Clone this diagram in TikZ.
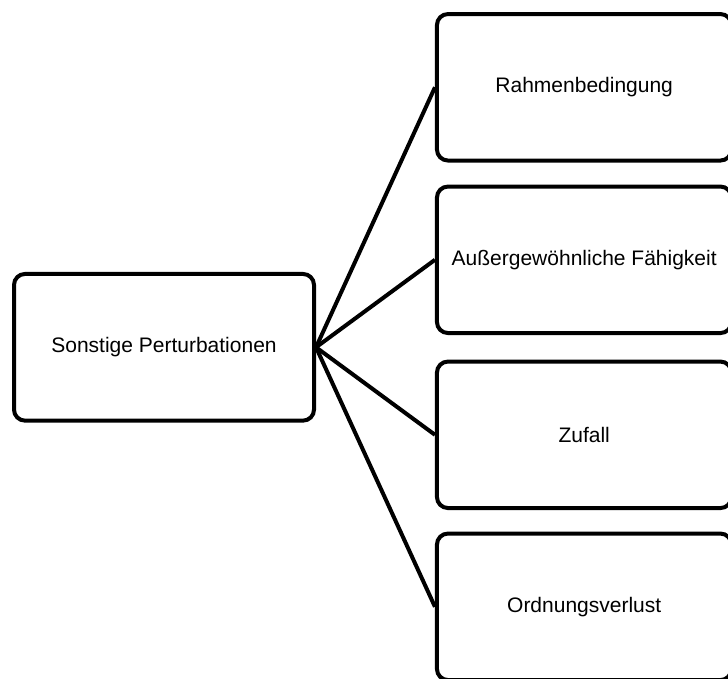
\documentclass[tikz,border=0pt]{standalone}
\usepackage{fontspec}
\setmainfont{Liberation Sans}
\begin{document}
\begin{tikzpicture}[x=1pt,y=-1pt,
  box/.style={draw=black, line width=4pt, rounded corners=11pt, fill=white,
    inner sep=0pt, font=\fontsize{21}{25}\selectfont},
  leftbox/.style={box, minimum width=300pt, minimum height=146.7pt},
  rightbox/.style={box, minimum width=294.5pt, minimum height=146.5pt},
  link/.style={draw=black, line width=4pt}]
  \useasboundingbox (0,0) rectangle (728,679);
  \begin{scope}
    \clip (0,0) rectangle (728,679);
    \node[leftbox] (root) at (164,347.3) {Sonstige Perturbationen};
    \node[rightbox] (r1) at (584.2,87.3) {Rahmenbedingung};
    \node[rightbox] (r2) at (584.2,259.8) {Außergewöhnliche Fähigkeit};
    \node[rightbox] (r3) at (584.2,434.8) {Zufall};
    \node[rightbox] (r4) at (584.2,606.8) {Ordnungsverlust};
    \foreach \t in {r1,r2,r3,r4}
      \draw[link] (root.east) -- (\t.west);
  \end{scope}
\end{tikzpicture}
\end{document}
